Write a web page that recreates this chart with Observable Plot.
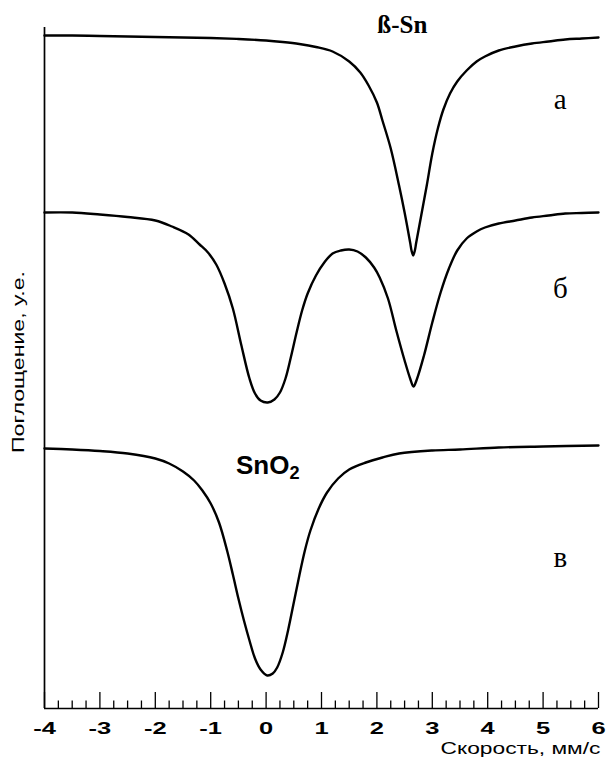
<!DOCTYPE html>
<html><head><meta charset="utf-8">
<script src="https://cdn.jsdelivr.net/npm/d3@7"></script>
<script src="https://cdn.jsdelivr.net/npm/@observablehq/plot@0.6"></script>
<style>html,body{margin:0;padding:0;background:#fff;}</style>
</head><body><div id="chart"></div>
<script>
// Spectrum (а) beta-Sn
const velA = [-4.0,-3.5,-3.0,-2.5,-2.0,-1.5,-1.0,-0.5,0.0,0.3,0.6,0.9,1.2,1.5,1.7,1.85,2.0,2.1,2.25,2.4,2.5,2.6,2.625,2.655,2.685,2.71,2.8,2.9,3.0,3.1,3.2,3.32,3.45,3.62,3.8,3.95,4.2,4.5,4.8,5.1,5.4,5.7,6.0];
const absA = [67.3,67.3,67.25,67.2,67.15,67.1,67.05,66.95,66.8,66.65,66.45,66.15,65.7,64.7,63.6,62.3,60.6,58.8,56.0,52.3,49.6,46.6,45.8,45.3,45.8,46.6,49.3,52.3,55.5,58.0,59.9,61.5,62.7,63.8,64.7,65.2,65.8,66.2,66.5,66.7,66.9,67.0,67.1];
// Spectrum (б) mixture
const velB = [-4.0,-3.5,-3.0,-2.5,-2.0,-1.7,-1.4,-1.2,-1.05,-0.9,-0.75,-0.6,-0.45,-0.3,-0.2,-0.1,0.03,0.15,0.25,0.35,0.45,0.55,0.65,0.75,0.9,1.05,1.2,1.35,1.5,1.65,1.8,1.95,2.05,2.2,2.35,2.5,2.6,2.66,2.72,2.85,3.0,3.15,3.3,3.45,3.62,3.8,3.95,4.2,4.5,4.8,5.1,5.4,5.7,6.0];
const absB = [49.6,49.6,49.4,49.15,48.8,48.2,47.4,46.4,45.6,44.4,42.5,40.0,36.4,33.0,31.5,30.8,30.6,30.9,31.6,33.0,35.2,37.6,39.8,41.5,43.3,44.6,45.5,45.8,45.9,45.7,45.1,44.1,43.1,41.0,37.8,34.8,33.0,32.2,32.9,35.3,38.6,41.6,44.0,45.8,47.0,47.7,48.1,48.5,48.8,49.1,49.3,49.5,49.55,49.6];
// Spectrum (в) SnO2
const velC = [-4.0,-3.5,-3.0,-2.5,-2.0,-1.75,-1.5,-1.3,-1.15,-1.0,-0.85,-0.7,-0.6,-0.5,-0.4,-0.3,-0.2,-0.1,0.02,0.12,0.2,0.3,0.4,0.5,0.6,0.7,0.8,0.95,1.1,1.3,1.5,1.8,2.1,2.4,3.0,3.5,4.2,5.0,6.0];
const absC = [26.0,25.9,25.75,25.5,25.0,24.5,23.7,22.8,21.8,20.5,18.6,15.7,13.4,11.0,8.8,6.8,5.0,3.9,3.3,3.5,4.1,5.6,7.9,10.6,13.3,15.8,17.8,20.0,21.6,23.0,23.9,24.6,25.1,25.5,25.8,25.9,26.1,26.2,26.3];

const majorTicks = [-4,-3,-2,-1,0,1,2,3,4,5,6];
const xTitle = "Скорость, мм/с";
const yTitle = "Поглощение, у.е.";
const curveLabels = ["а","б","в"];
const curveLabelX = [5.31,5.31,5.31];
const curveLabelY = [60.85,41.95,15.06];
const phaseLabels = ["ß-Sn","SnO2"];
const phaseX = [2.46,0.03];
const phaseY = [68.4,24.3];

const series = [
  {name:"а", v: velA, a: absA},
  {name:"б", v: velB, a: absB},
  {name:"в", v: velC, a: absC}
];
const points = series.flatMap(s => s.v.map((v,i) => ({series: s.name, v, y: s.a[i]})));
const minorTicks = d3.range(-4, 6.001, 0.25).filter(t => Math.abs(t - Math.round(t)) > 1e-9);

const serif = "'Liberation Serif', 'Times New Roman', serif";
const chart = Plot.plot({
  width: 608, height: 761,
  marginLeft: 44, marginRight: 10, marginTop: 27, marginBottom: 53,
  style: {fontFamily: "'Liberation Sans', Arial, sans-serif", background: "#fff", color: "#000", overflow: "visible"},
  x: {domain: [-4, 6]},
  y: {domain: [0, 68.1], axis: null},
  marks: [
    Plot.ruleX(majorTicks, {x: d => d, y1: 0, y2: 1.6, strokeWidth: 1.3}),
    Plot.ruleX(minorTicks, {x: d => d, y1: 0, y2: 0.75, strokeWidth: 1.3}),
    Plot.ruleY([0], {strokeWidth: 1.7}),
    Plot.ruleX([-4], {strokeWidth: 1.7}),
    Plot.axisX({ticks: majorTicks, tickSize: 0, tickPadding: 13, fontSize: 17, fontWeight: "bold", tickFormat: d => String(d), label: null}),
    Plot.line(points, {x: "v", y: "y", z: "series", stroke: "#000", strokeWidth: 2.4, curve: "catmull-rom"}),
    Plot.text([xTitle], {frameAnchor: "bottom-right", textAnchor: "end", dy: 45, dx: 2, fontSize: 17}),
    Plot.text([yTitle], {frameAnchor: "left", rotate: -90, dx: -26, dy: -6, fontSize: 17}),
    Plot.text(curveLabels, {x: (d,i) => curveLabelX[i], y: (d,i) => curveLabelY[i], text: d => d, fontFamily: serif, fontSize: 29}),
    Plot.text([phaseLabels[0]], {x: phaseX[0], y: phaseY[0], text: d => d, fontFamily: serif, fontWeight: "bold", fontSize: 25}),
    Plot.text([phaseLabels[1]], {x: phaseX[1], y: phaseY[1], text: d => d, fontWeight: "bold", fontSize: 26})
  ]
});
document.getElementById("chart").appendChild(chart);

// subscript for SnO2
d3.select(chart).selectAll("text").each(function() {
  if (this.textContent === "SnO2") {
    this.textContent = "SnO";
    d3.select(this).append("tspan").attr("dy", "0.3em").attr("font-size", "70%").text("2");
  }
});
// horizontally widened sans-serif lettering, as in the reference (kept centred)
function stretchCentered(el, len) {
  el.setAttribute("text-anchor", "start");
  el.setAttribute("dx", -len / 2);
  el.setAttribute("textLength", len);
  el.setAttribute("lengthAdjust", "spacingAndGlyphs");
}
function stretchEnd(el, len) {
  el.setAttribute("textLength", len);
  el.setAttribute("lengthAdjust", "spacingAndGlyphs");
}
const tickStrings = new Set(majorTicks.map(String));
d3.select(chart).selectAll("text").each(function() {
  const t = this.textContent;
  if (t === xTitle) stretchEnd(this, 160);
  else if (t === yTitle) stretchCentered(this, 182);
  else if (tickStrings.has(t) && this.parentNode.getAttribute("font-weight") === "bold") {
    stretchCentered(this, this.getComputedTextLength() * 1.5);
  }
});
</script>
</body></html>
